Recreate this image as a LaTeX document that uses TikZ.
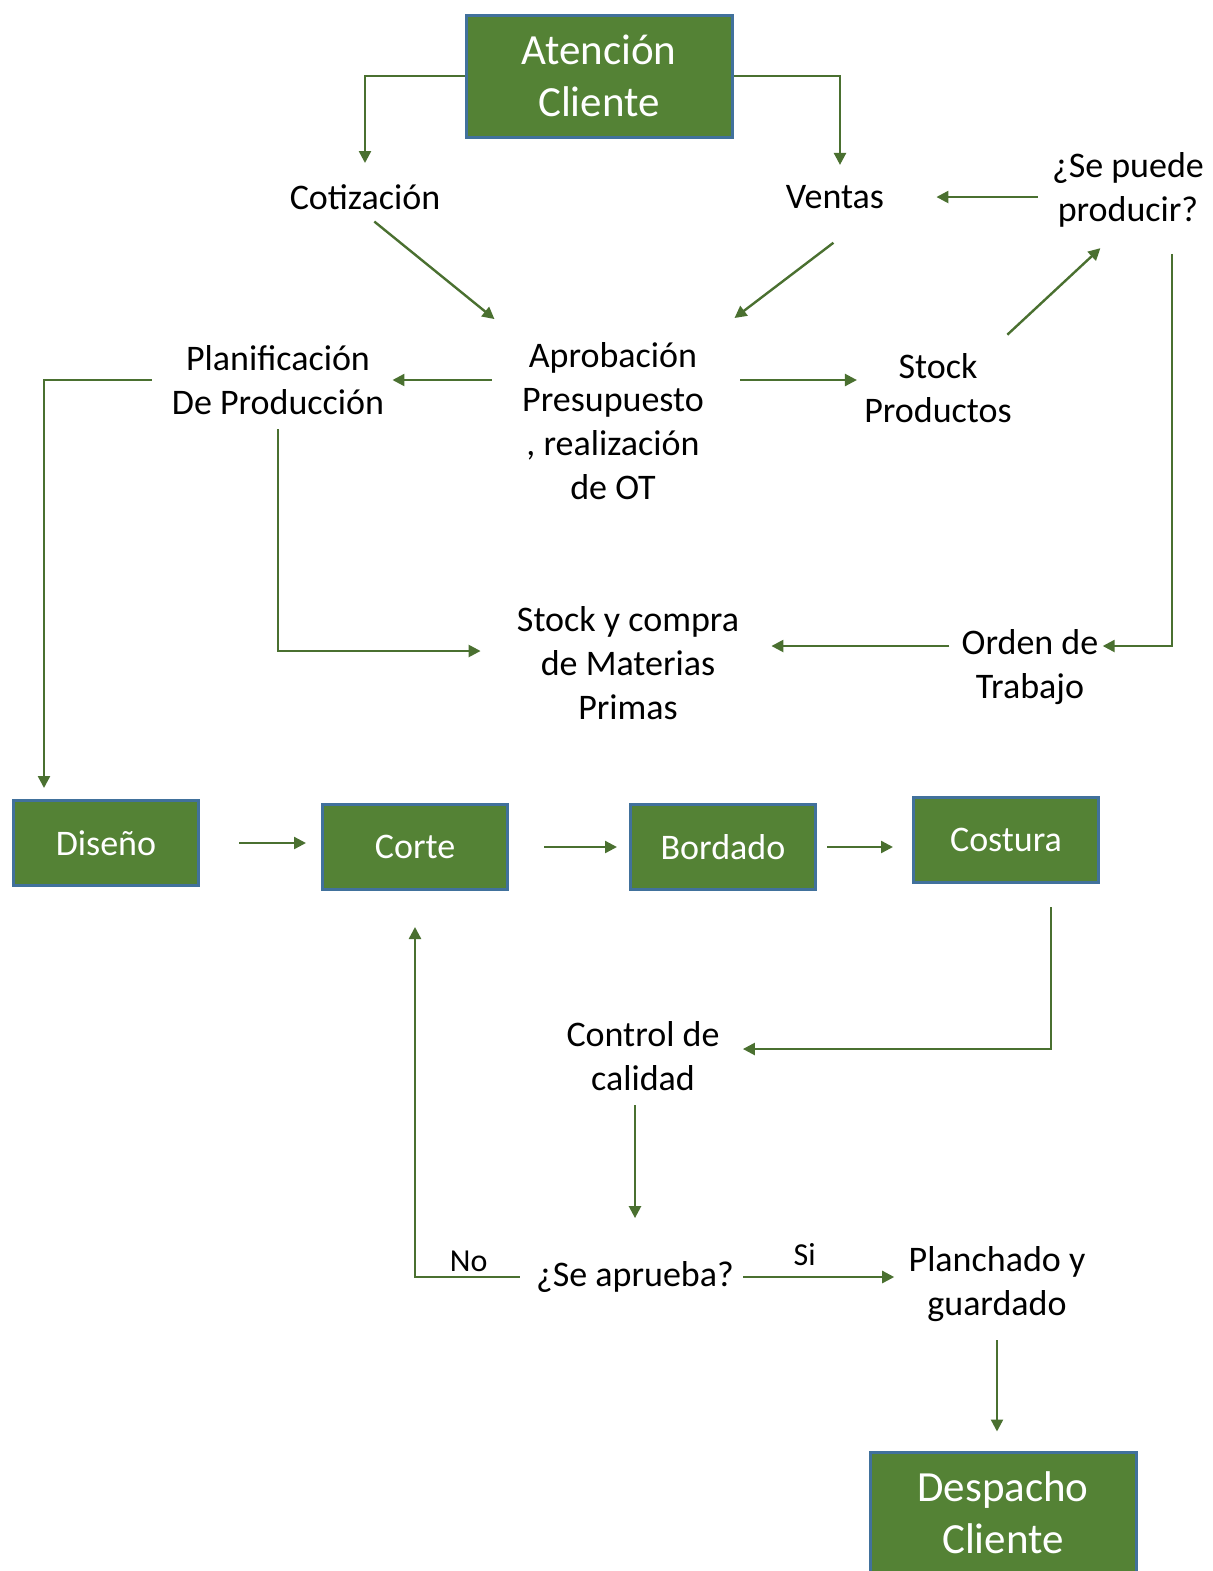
\documentclass[tikz,border=0pt]{standalone}
\usepackage{fontspec}
\setmainfont{Carlito}
\usetikzlibrary{arrows.meta,positioning}
\definecolor{boxgreen}{HTML}{548235}
\definecolor{boxblue}{HTML}{41719C}
\definecolor{linegreen}{HTML}{4A7030}
\tikzset{
    %Define standard arrow tip
    >={Triangle[length=6pt,width=6pt]},
    %Define style for boxes
    box/.style={
           rectangle,
           fill=boxgreen,
           draw=boxblue, line width=1.5pt,
           text=white,
           minimum width=92.5pt,
           minimum height=42.5pt,
           font=\fontsize{18}{22}\selectfont},
    bigbox/.style={
           box,
           minimum width=133pt,
           minimum height=61pt,
           align=center,
           font=\fontsize{21.5}{26}\selectfont},
    % Define style for plain steps
    txt/.style={
           align=center,
           inner sep=2pt,
           font=\fontsize{18}{22}\selectfont},
    % Define arrow style
    flow/.style={
           ->,
           draw=linegreen,
           line width=1.2pt},
    lbl/.style={
           inner sep=2pt,
           font=\fontsize{16}{19}\selectfont}
}

\begin{document}
\begin{tikzpicture}[x=0.5pt,y=-0.5pt]
 \useasboundingbox (0,0) rectangle (1213,1571);
 %nodes
    \node[bigbox] (ac) at (599,76) {Atención\\Cliente};
    \node[txt] (cot) at (365,197) {Cotización};
    \node[txt] (ven) at (835,197) {Ventas};
    \node[txt] (prod) at (1128,190) {¿Se puede\\producir?};
    \node[txt] (apr) at (613,421) {Aprobación\\Presupuesto\\, realización\\de OT};
    \node[txt] (plan) at (278,380) {Planificación\\De Producción};
    \node[txt] (stp) at (938,388) {Stock\\Productos};
    \node[txt] (ot) at (1030,667) {Orden de\\Trabajo};
    \node[txt] (mp) at (628,663) {Stock y compra\\de Materias\\Primas};
    \node[box] (dis) at (106,843) {Diseño};
    \node[box] (cor) at (415,847) {Corte};
    \node[box] (bor) at (723,847) {Bordado};
    \node[box] (cos) at (1006,840) {Costura};
    \node[txt] (cal) at (643,1056) {Control de\\calidad};
    \node[txt] (apb) at (635,1277) {¿Se aprueba?};
    \node[txt] (pla) at (997,1284) {Planchado y\\guardado};
    \node[bigbox] (des) at (1003,1513) {Despacho\\Cliente};
 %edges
    \draw[flow, shorten >=8.5pt] (ac.west) -| (cot.north);
    \draw[flow, shorten >=8pt] (ac.east) -| ([xshift=2.5pt]ven.north);
    \draw[flow, shorten <=6pt, shorten >=15pt] (cot.south) -- (apr.north west);
    \draw[flow, shorten <=24.5pt, shorten >=16.5pt] ([xshift=-8pt]ven.south east) -- (apr.north east);
    \draw[flow, shorten <=5pt, shorten >=24pt] (prod.west |- ven.east) -- (ven.east);
    \draw[flow, shorten <=13pt, shorten >=2pt] (apr.west |- plan.east) -- (plan.east);
    \draw[flow, shorten <=16pt, shorten >=1.5pt] (apr.east |- plan.east) -- (plan.east -| stp.west);
    \draw[flow, shorten <=10.5pt, shorten >=12pt] ([xshift=27pt]stp.north) -- ([xshift=-5pt]prod.south);
    \draw[flow, shorten <=11pt] ([xshift=22pt]prod.south) |- ([yshift=10.5pt]ot.east);
    \draw[flow, shorten <=4pt, shorten >=14pt] ([yshift=10.5pt]ot.west) -- ([yshift=10.5pt]ot.west -| mp.east);
    \draw[flow, shorten <=5pt, shorten >=16pt] (plan.south) |- ([yshift=6pt]mp.west);
    \draw[flow, shorten <=8pt, shorten >=5.5pt] (plan.west) -| ([xshift=-31pt]dis.north);
    \draw[flow, shorten <=19.5pt, shorten >=7.5pt] (dis.east) -- (dis.east -| cor.west);
    \draw[flow, shorten <=17.5pt, shorten >=6pt] (cor.east) -- (cor.east -| bor.west);
    \draw[flow, shorten <=5pt, shorten >=9.5pt] (bor.east) -- (bor.east -| cos.west);
    \draw[flow, shorten <=11.5pt, shorten >=9.5pt] ([xshift=22.5pt]cos.south) |- ([yshift=3.5pt]cal.east);
    \draw[flow, shorten <=5pt, shorten >=19.5pt] (apb.north |- cal.south) -- (apb.north);
    \draw[flow, shorten <=6pt, shorten >=18pt] (apb.west) -| node[lbl, above, pos=0.27] {No} (cor.south);
    \draw[flow, shorten <=2.5pt, shorten >=5pt] (apb.east) -- node[lbl, above=3pt, pos=0.4] {Si} (apb.east -| pla.west);
    \draw[flow, shorten <=7pt, shorten >=9.5pt] (pla.south) -- (pla.south |- des.north);
\end{tikzpicture}
\end{document}
